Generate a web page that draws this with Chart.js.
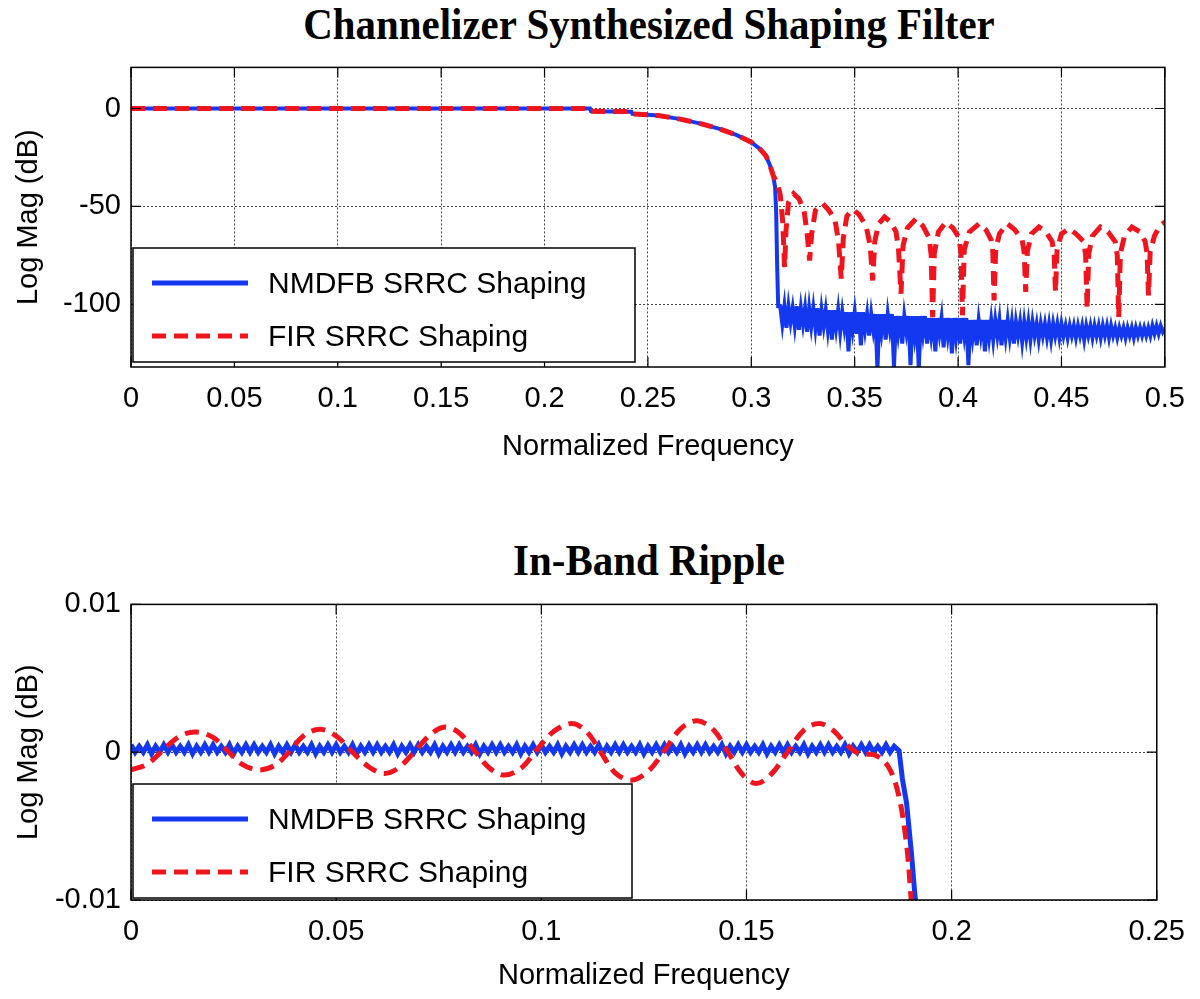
<!DOCTYPE html>
<html>
<head>
<meta charset="utf-8">
<script src="https://cdn.jsdelivr.net/npm/chart.js@4.4.0/dist/chart.umd.min.js"></script>
<style>
body{margin:0;width:1200px;height:999px;overflow:hidden;background:#fff;position:relative}
.ttl{position:absolute;left:649px;font:bold 44px "Liberation Serif";line-height:1;white-space:nowrap;color:#000;transform:translateX(-50%) scaleX(0.93)}
#t1{top:3px}
#t2{top:539px}
#c1{position:absolute;left:0;top:40px}
#c2{position:absolute;left:0;top:577px}
</style>
</head>
<body>
<div class="ttl" id="t1">Channelizer Synthesized Shaping Filter</div>
<div class="ttl" id="t2">In-Band Ripple</div>
<canvas id="c1" width="1200" height="430"></canvas>
<canvas id="c2" width="1200" height="422"></canvas>
<script>
// ---- top plot: full response (dB) ----
const topBlueFreq = [0,0.222,0.2225,0.242,0.2425,0.255,0.265,0.275,0.285,0.293,0.300,0.304,0.307,0.309,0.3105,0.3115,0.3120,0.3125,0.3130,
  0.314,0.315,0.316,0.317,0.318,0.319,0.320,0.321,0.322,0.323,
  0.324,0.325,0.326,0.327,0.328,0.329,0.330,0.331,0.332,0.333,
  0.334,0.335,0.336,0.337,0.338,0.339,0.340,0.341,0.342,0.343,
  0.344,0.345,0.346,0.347,0.348,0.349,0.350,0.351,0.352,0.353,
  0.354,0.355,0.356,0.357,0.358,0.359,0.360,0.361,0.362,0.363,
  0.364,0.365,0.366,0.367,0.368,0.369,0.370,0.371,0.372,0.373,
  0.374,0.375,0.376,0.377,0.378,0.379,0.380,0.381,0.382,0.383,
  0.384,0.385,0.386,0.387,0.388,0.389,0.390,0.391,0.392,0.393,
  0.394,0.395,0.396,0.397,0.398,0.399,0.400,0.401,0.402,0.403,
  0.404,0.405,0.406,0.407,0.408,0.409,0.410,0.411,0.412,0.413,
  0.414,0.415,0.416,0.417,0.418,0.419,0.420,0.421,0.422,0.423,
  0.424,0.425,0.426,0.427,0.428,0.429,0.430,0.431,0.432,0.433,
  0.434,0.435,0.436,0.437,0.438,0.439,0.440,0.441,0.442,0.443,
  0.444,0.445,0.446,0.447,0.448,0.449,0.450,0.451,0.452,0.453,
  0.454,0.455,0.456,0.457,0.458,0.459,0.460,0.461,0.462,0.463,
  0.464,0.465,0.466,0.467,0.468,0.469,0.470,0.471,0.472,0.473,
  0.474,0.475,0.476,0.477,0.478,0.479,0.480,0.481,0.482,0.483,
  0.484,0.485,0.486,0.487,0.488,0.489,0.490,0.491,0.492,0.493,
  0.494,0.495,0.496,0.497,0.498,0.499,0.500];
const topBlueMag = [0,0,-1.4,-1.6,-2.7,-3.6,-5.3,-7.6,-10.5,-13.6,-17.2,-20.5,-24,-29,-34,-40,-52,-80,-101,
  -101,-110,-101,-112,-101,-109,-102,-111,-101,-113,
  -102,-110,-102,-114,-102,-111,-102,-112,-102,-116,
  -103,-111,-103,-113,-103,-118,-103,-112,-103,-114,
  -104,-112,-104,-124,-104,-113,-104,-115,-104,-121,
  -104,-113,-105,-116,-105,-113,-105,-133,-105,-114,
  -105,-118,-105,-113,-105,-132,-106,-115,-106,-120,
  -106,-114,-106,-131,-106,-116,-106,-133,-106,-115,
  -106,-120,-107,-116,-107,-124,-107,-115,-107,-122,
  -107,-116,-107,-125,-107,-117,-107,-120,-107,-116,
  -107,-131,-108,-117,-108,-121,-108,-116,-108,-124,
  -108,-117,-108,-118,-108,-116,-108,-121,-108,-117,
  -108,-117,-109,-120,-109,-116,-109,-119,-109,-117,
  -109,-118,-109,-116,-110,-118,-110,-116,-110,-117,
  -110,-118,-110,-116,-110,-117,-110,-116,-111,-117,
  -111,-116,-111,-117,-111,-116,-111,-118,-111,-116,
  -111,-117,-111,-116,-111,-117,-111,-116,-111,-117,
  -111,-116,-112,-117,-112,-116,-112,-117,-112,-116,
  -112,-117,-112,-116,-112,-116,-112,-116,-112,-116,
  -111,-115,-111,-115,-111,-114,-112];

const topRedFreq = [0,0.222,0.2225,0.242,0.2425,0.255,0.265,0.275,0.285,0.293,0.300,0.304,0.307,0.309,0.3105,
  0.3125,0.3140,0.3152,0.3161,0.3168,0.3180,0.3205,0.3230,0.3255,0.3270,0.3282,0.3292,0.3310,0.3346,0.3375,
  0.3405,0.3422,0.3435,0.3445,0.3462,0.3489,0.3520,0.3555,0.3575,0.3587,0.3597,0.3615,0.3644,0.3675,0.3700,
  0.3712,0.3724,0.3734,0.3755,0.3796,0.3830,0.3860,0.3870,0.3877,0.3885,0.3905,0.3941,0.3975,0.4005,0.4014,
  0.4021,0.4030,0.4055,0.4102,0.4135,0.4160,0.4168,0.4174,0.4182,0.4200,0.4238,0.4275,0.4310,0.4320,0.4327,
  0.4335,0.4355,0.4391,0.4425,0.4455,0.4465,0.4471,0.4479,0.4500,0.4536,0.4570,0.4608,0.4617,0.4624,0.4632,
  0.4650,0.4688,0.4725,0.4760,0.4770,0.4777,0.4785,0.4805,0.4841,0.4880,0.4905,0.4914,0.4921,0.4929,0.4950,0.4977,0.5];
const topRedMag = [0,0,-1.4,-1.6,-2.7,-3.6,-5.3,-7.6,-10.5,-13.6,-17.2,-20.5,-24,-29,-34,
  -38,-44,-58,-81,-62,-48,-43.5,-46,-52,-64,-77.6,-64,-52,-48.6,-52,
  -57,-68,-86.9,-66,-55,-51.5,-54,-60,-70,-87.8,-68,-59,-55.4,-58,-63,
  -72,-94.6,-70,-61,-56.3,-60,-66,-75,-106.5,-74,-63,-58,-61,-66,-74,
  -105.6,-72,-63,-58.8,-62,-67,-73,-98,-72,-64,-58.8,-62,-67,-74,-93.7,
  -73,-64,-60.5,-63,-68,-75,-93.7,-72,-64,-61.4,-64,-68,-75,-102.2,-74,
  -65,-60.5,-63,-68,-75,-106.5,-74,-65,-60.5,-63,-68,-74,-95.4,-73,-65,-59.7,-58];

const xTicksTop = [0,0.05,0.1,0.15,0.2,0.25,0.3,0.35,0.4,0.45,0.5];
const xLabelsTop = ['0','0.05','0.1','0.15','0.2','0.25','0.3','0.35','0.4','0.45','0.5'];
const yTicksTop = [-100,-50,0];
const yLabelsTop = ['-100','-50','0'];

// ---- bottom plot: in-band ripple (dB) ----
const ripBlueFreq = [
  0.000,0.001,0.002,0.003,0.004,0.005,0.006,0.007,0.008,0.009,
  0.010,0.011,0.012,0.013,0.014,0.015,0.016,0.017,0.018,0.019,
  0.020,0.021,0.022,0.023,0.024,0.025,0.026,0.027,0.028,0.029,
  0.030,0.031,0.032,0.033,0.034,0.035,0.036,0.037,0.038,0.039,
  0.040,0.041,0.042,0.043,0.044,0.045,0.046,0.047,0.048,0.049,
  0.050,0.051,0.052,0.053,0.054,0.055,0.056,0.057,0.058,0.059,
  0.060,0.061,0.062,0.063,0.064,0.065,0.066,0.067,0.068,0.069,
  0.070,0.071,0.072,0.073,0.074,0.075,0.076,0.077,0.078,0.079,
  0.080,0.081,0.082,0.083,0.084,0.085,0.086,0.087,0.088,0.089,
  0.090,0.091,0.092,0.093,0.094,0.095,0.096,0.097,0.098,0.099,
  0.100,0.101,0.102,0.103,0.104,0.105,0.106,0.107,0.108,0.109,
  0.110,0.111,0.112,0.113,0.114,0.115,0.116,0.117,0.118,0.119,
  0.120,0.121,0.122,0.123,0.124,0.125,0.126,0.127,0.128,0.129,
  0.130,0.131,0.132,0.133,0.134,0.135,0.136,0.137,0.138,0.139,
  0.140,0.141,0.142,0.143,0.144,0.145,0.146,0.147,0.148,0.149,
  0.150,0.151,0.152,0.153,0.154,0.155,0.156,0.157,0.158,0.159,
  0.160,0.161,0.162,0.163,0.164,0.165,0.166,0.167,0.168,0.169,
  0.170,0.171,0.172,0.173,0.174,0.175,0.176,0.177,0.178,0.179,
  0.180,0.181,0.182,0.183,0.184,0.185,0.186,
  0.1872,0.188,0.189,0.1902,0.191,0.1914];
const ripBlueMag = [
  0.0005,0.0000,0.0004,0.0000,0.0005,-0.0001,0.0004,0.0000,0.0005,0.0000,
  0.0005,0.0000,0.0004,0.0000,0.0005,-0.0001,0.0004,0.0000,0.0005,0.0000,
  0.0005,0.0000,0.0004,0.0000,0.0005,-0.0001,0.0004,0.0000,0.0005,0.0000,
  0.0005,0.0000,0.0004,0.0000,0.0005,-0.0001,0.0004,0.0000,0.0005,0.0000,
  0.0005,0.0000,0.0004,0.0000,0.0005,-0.0001,0.0004,0.0000,0.0005,0.0000,
  0.0005,0.0000,0.0004,0.0000,0.0005,-0.0001,0.0004,0.0000,0.0005,0.0000,
  0.0005,0.0000,0.0004,0.0000,0.0005,-0.0001,0.0004,0.0000,0.0005,0.0000,
  0.0005,0.0000,0.0004,0.0000,0.0005,-0.0001,0.0004,0.0000,0.0005,0.0000,
  0.0005,0.0000,0.0004,0.0000,0.0005,-0.0001,0.0004,0.0000,0.0005,0.0000,
  0.0005,0.0000,0.0004,0.0000,0.0005,-0.0001,0.0004,0.0000,0.0005,0.0000,
  0.0005,0.0000,0.0004,0.0000,0.0005,-0.0001,0.0004,0.0000,0.0005,0.0000,
  0.0005,0.0000,0.0004,0.0000,0.0005,-0.0001,0.0004,0.0000,0.0005,0.0000,
  0.0005,0.0000,0.0004,0.0000,0.0005,-0.0001,0.0004,0.0000,0.0005,0.0000,
  0.0005,0.0000,0.0004,0.0000,0.0005,-0.0001,0.0004,0.0000,0.0005,0.0000,
  0.0005,0.0000,0.0004,0.0000,0.0005,-0.0001,0.0004,0.0000,0.0005,0.0000,
  0.0005,0.0000,0.0004,0.0000,0.0005,-0.0001,0.0004,0.0000,0.0005,0.0000,
  0.0005,0.0000,0.0004,0.0000,0.0005,-0.0001,0.0004,0.0000,0.0005,0.0000,
  0.0005,0.0000,0.0004,0.0000,0.0005,-0.0001,0.0004,0.0000,0.0005,0.0000,
  0.0005,0.0000,0.0004,0.0000,0.0005,0.0000,0.0004,
  0.0001,-0.0018,-0.0034,-0.0068,-0.0095,-0.0105];

const ripRedFreq = [0,0.004,0.008,0.012,0.0158,0.020,0.0235,0.027,0.0311,0.035,0.0385,0.042,0.046,0.050,0.054,0.058,
  0.0616,0.065,0.069,0.073,0.0765,0.080,0.084,0.0875,0.091,0.095,0.099,0.103,0.1074,0.111,0.1145,0.118,0.1219,
  0.126,0.130,0.134,0.138,0.142,0.1455,0.149,0.1524,0.156,0.160,0.164,0.1677,0.171,0.1741,0.1774,0.1814,0.1846,
  0.187,0.189,0.1902];
const ripRedMag = [-0.0012,-0.0008,0.0002,0.0011,0.00137,0.0010,0.0001,-0.0008,-0.0012,-0.0009,0.0000,0.0011,0.00155,0.0011,0.0000,-0.0010,
  -0.00144,-0.0011,0.0000,0.0012,0.00171,0.0013,0.0000,-0.0011,-0.00155,-0.0011,0.0002,0.0014,0.00194,0.0014,0.0000,-0.0014,-0.00189,
  -0.0013,0.0001,0.0016,0.00212,0.0015,0.0000,-0.0015,-0.00212,-0.0015,0.0000,0.0015,0.00194,0.0015,0.0006,-0.0001,-0.0002,-0.0010,
  -0.0028,-0.0062,-0.0102];

const xTicksRip = [0,0.05,0.1,0.15,0.2,0.25];
const xLabelsRip = ['0','0.05','0.1','0.15','0.2','0.25'];
const yTicksRip = [-0.01,0,0.01];
const yLabelsRip = ['-0.01','0','0.01'];

const seriesNames = ['NMDFB SRRC Shaping', 'FIR SRRC Shaping'];
const blue = '#1437f0';
const red = '#f0141e';
const fnt = '"Liberation Sans", Arial, sans-serif';

function pts(xs, ys) { return xs.map((x, i) => ({x: x, y: ys[i]})); }

// matlab style box, inner ticks and legend inside the axes
const axesBox = {
  id: 'axesBox',
  afterDatasetsDraw(chart, args, opts) {
    const ctx = chart.ctx, a = chart.chartArea;
    const sx = chart.scales.x, sy = chart.scales.y;
    ctx.save();
    ctx.strokeStyle = '#000';
    ctx.lineWidth = 1.2;
    ctx.beginPath();
    sx.ticks.forEach(t => {
      const p = sx.getPixelForValue(t.value);
      ctx.moveTo(p, a.bottom); ctx.lineTo(p, a.bottom - 10);
      ctx.moveTo(p, a.top); ctx.lineTo(p, a.top + 10);
    });
    sy.ticks.forEach(t => {
      const p = sy.getPixelForValue(t.value);
      ctx.moveTo(a.left, p); ctx.lineTo(a.left + 10, p);
      ctx.moveTo(a.right, p); ctx.lineTo(a.right - 10, p);
    });
    ctx.stroke();

    // legend
    const lx = a.left + 2, lw = opts.legendW, lh = 114;
    const ly = a.bottom - opts.legendGap - lh;
    ctx.fillStyle = '#fff';
    ctx.fillRect(lx, ly, lw, lh);
    ctx.lineWidth = 1.5;
    ctx.strokeRect(lx, ly, lw, lh);
    chart.data.datasets.forEach((ds, i) => {
      const y = ly + 35 + i * 53;
      ctx.strokeStyle = ds.borderColor;
      ctx.lineWidth = 5;
      ctx.setLineDash(ds.borderDash || []);
      ctx.beginPath();
      ctx.moveTo(lx + 19, y); ctx.lineTo(lx + 115, y);
      ctx.stroke();
      ctx.setLineDash([]);
      ctx.fillStyle = '#000';
      ctx.font = '30px ' + fnt;
      ctx.textBaseline = 'middle';
      ctx.textAlign = 'left';
      ctx.fillText(ds.label, lx + 135, y + 2);
    });

    ctx.strokeStyle = '#000';
    ctx.lineWidth = 1.5;
    ctx.strokeRect(a.left, a.top, a.width, a.height);
    ctx.restore();
  }
};

function makeChart(id, d, o) {
  return new Chart(document.getElementById(id), {
    type: 'line',
    data: {
      datasets: [
        {label: seriesNames[0], data: d.blue, borderColor: blue, borderWidth: o.blueW, pointRadius: 0,
         tension: 0, order: 1, clip: 0},
        {label: seriesNames[1], data: d.red, borderColor: red, borderWidth: 5, borderDash: [14, 8], pointRadius: 0,
         tension: o.redTension, order: 0, clip: 0}
      ]
    },
    options: {
      responsive: false,
      animation: false,
      layout: {padding: {top: 0, right: 29, left: 0, bottom: 0}},
      plugins: {
        legend: {display: false},
        tooltip: {enabled: false},
        axesBox: {legendW: o.legendW, legendGap: o.legendGap}
      },
      scales: {
        x: {
          type: 'linear', min: o.xTicks[0], max: o.xTicks[o.xTicks.length - 1],
          afterFit: s => { s.height = o.xH; },
          afterBuildTicks: s => { s.ticks = o.xTicks.map(v => ({value: v})); },
          ticks: {font: {family: fnt, size: 29}, color: '#000', padding: 15, maxRotation: 0,
                  callback: (v, i) => o.xLabels[i]},
          grid: {color: '#444', lineWidth: 1, drawTicks: false},
          border: {display: false, dash: [2, 2]},
          title: {display: true, text: 'Normalized Frequency', font: {family: fnt, size: 29}, color: '#000',
                  padding: {top: 0, bottom: 6}}
        },
        y: {
          type: 'linear', min: o.yMin, max: o.yMax,
          afterFit: s => { s.width = 131; },
          afterBuildTicks: s => { s.ticks = o.yTicks.map(v => ({value: v})); },
          ticks: {font: {family: fnt, size: 29}, color: '#000', padding: 10,
                  callback: (v, i) => o.yLabels[i]},
          grid: {color: '#444', lineWidth: 1, drawTicks: false},
          border: {display: false, dash: [2, 2]},
          title: {display: true, text: 'Log Mag (dB)', font: {family: fnt, size: 29}, color: '#000',
                  padding: {top: 12, bottom: 0}}
        }
      }
    },
    plugins: [axesBox]
  });
}

makeChart('c1', {blue: pts(topBlueFreq, topBlueMag), red: pts(topRedFreq, topRedMag)},
  {xTicks: xTicksTop, xLabels: xLabelsTop, yTicks: yTicksTop, yLabels: yLabelsTop, yMin: -132, yMax: 21,
   xH: 103, legendW: 502, legendGap: 5, blueW: 4, redTension: 0});

makeChart('c2', {blue: pts(ripBlueFreq, ripBlueMag), red: pts(ripRedFreq, ripRedMag)},
  {xTicks: xTicksRip, xLabels: xLabelsRip, yTicks: yTicksRip, yLabels: yLabelsRip, yMin: -0.01, yMax: 0.01,
   xH: 99, legendW: 499, legendGap: 2, blueW: 5, redTension: 0.35});
</script>
</body>
</html>
